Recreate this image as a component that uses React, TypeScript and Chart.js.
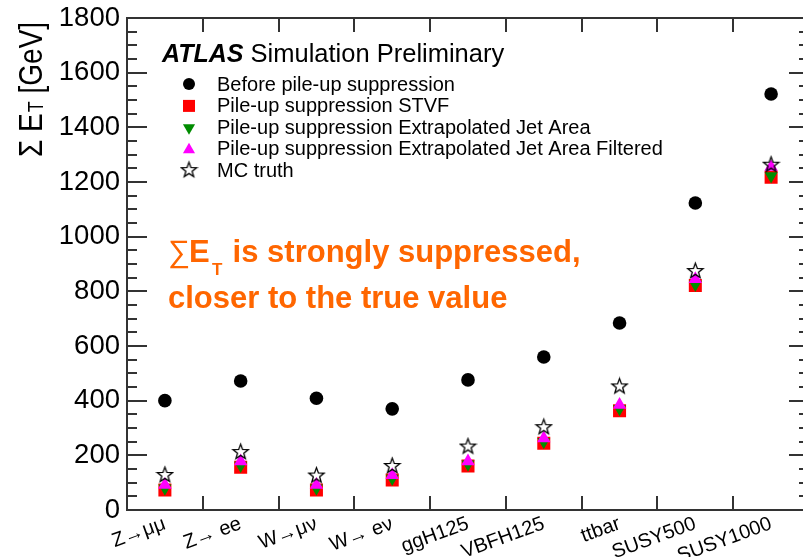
import React, { useEffect, useRef } from "react";
import { Chart, registerables } from "chart.js";

Chart.register(...registerables);

// ---------- data ----------
const categories = ["Z→μμ", "Z→ ee", "W→μν", "W→ eν", "ggH125", "VBFH125", "ttbar", "SUSY500", "SUSY1000"];
const beforeSuppression = [400, 472, 409, 370, 476, 560, 684, 1123, 1522];
const stvf = [73, 156, 73, 110, 161, 244, 363, 821, 1217];
const extrapolatedJetArea = [80, 163, 80, 115, 167, 250, 370, 825, 1222];
const extrapolatedJetAreaFiltered = [92, 178, 92, 128, 178, 262, 385, 845, 1255];
const mcTruth = [130, 214, 128, 163, 234, 305, 454, 876, 1265];

const yMin = 0;
const yMax = 1800;
const yMajorStep = 200;
const yMinorStep = 50;

const legendTitleBold = "ATLAS";
const legendTitleRest = " Simulation Preliminary";
const legendLabels = [
  "Before pile-up suppression",
  "Pile-up suppression STVF",
  "Pile-up suppression Extrapolated Jet Area",
  "Pile-up suppression Extrapolated Jet Area Filtered",
  "MC truth",
];
const noteSigma = "∑";
const noteE = "E";
const noteSub = "T";
const noteLine1Rest = " is strongly suppressed,";
const noteLine2 = "closer to the true value";

// ---------- styles ----------
const FONT = "'Liberation Sans', Arial, Helvetica, sans-serif";
const BLACK = "#000000";
const RED = "#ff0000";
const GREEN = "#008c00";
const MAGENTA = "#ff00ff";
const ORANGE = "#ff6600";
const AXIS = "#333333";

function makeStar(): HTMLCanvasElement {
  const size = 19;
  const c = document.createElement("canvas");
  c.width = size;
  c.height = size;
  const ctx = c.getContext("2d")!;
  const cx = size / 2;
  const cy = size / 2 + 0.6;
  const R = 8;
  const r = 3.3;
  ctx.beginPath();
  for (let i = 0; i < 10; i++) {
    const ang = -Math.PI / 2 + (i * Math.PI) / 5;
    const rad = i % 2 === 0 ? R : r;
    const x = cx + rad * Math.cos(ang);
    const y = cy + rad * Math.sin(ang);
    if (i === 0) ctx.moveTo(x, y);
    else ctx.lineTo(x, y);
  }
  ctx.closePath();
  ctx.lineWidth = 1.3;
  ctx.strokeStyle = BLACK;
  ctx.stroke();
  return c;
}

function triangle(ctx: CanvasRenderingContext2D, x: number, y: number, r: number, down: boolean) {
  const rot = down ? Math.PI : 0;
  ctx.beginPath();
  for (let i = 0; i < 3; i++) {
    const a = rot + (i * 2 * Math.PI) / 3;
    const px = x + Math.sin(a) * r;
    const py = y - Math.cos(a) * r;
    if (i === 0) ctx.moveTo(px, py);
    else ctx.lineTo(px, py);
  }
  ctx.closePath();
  ctx.fill();
}

export default function App() {
  const ref = useRef<HTMLCanvasElement>(null);

  useEffect(() => {
    const star = makeStar();

    const decor = {
      id: "decor",
      afterDraw(chart: any) {
        const { ctx, chartArea: a, scales } = chart;
        const xs = scales.x;
        const ys = scales.y;
        ctx.save();

        // frame
        ctx.strokeStyle = AXIS;
        ctx.lineWidth = 2;
        ctx.strokeRect(a.left, a.top, a.right - a.left, a.bottom - a.top);

        const line = (x1: number, y1: number, x2: number, y2: number) => {
          ctx.beginPath();
          ctx.moveTo(x1, y1);
          ctx.lineTo(x2, y2);
          ctx.stroke();
        };

        // y ticks (inward, both sides)
        for (let v = yMin; v <= yMax; v += yMinorStep) {
          const py = Math.round(ys.getPixelForValue(v));
          const len = v % yMajorStep === 0 ? 20 : 10;
          line(a.left, py, a.left + len, py);
          line(a.right, py, a.right - len, py);
        }
        // x ticks at category boundaries
        for (let i = 1; i < categories.length; i++) {
          const px = Math.round(xs.getPixelForValue(i - 0.5));
          line(px, a.bottom, px, a.bottom - 14);
          line(px, a.top, px, a.top + 14);
        }

        // y axis title
        ctx.fillStyle = BLACK;
        ctx.textBaseline = "alphabetic";
        ctx.textAlign = "left";
        ctx.save();
        ctx.translate(42, 157);
        ctx.rotate(-Math.PI / 2);
        ctx.scale(1, 1.2);
        ctx.font = `28px ${FONT}`;
        let w = 0;
        ctx.fillText("Σ E", w, 0);
        w += ctx.measureText("Σ E").width;
        ctx.font = `18px ${FONT}`;
        ctx.fillText("T", w + 1, 1);
        w += ctx.measureText("T").width + 1;
        ctx.font = `28px ${FONT}`;
        ctx.fillText(" [GeV]", w, 0);
        ctx.restore();

        // legend title
        ctx.font = `italic bold 25px ${FONT}`;
        ctx.fillText(legendTitleBold, 162, 62);
        const bw = ctx.measureText(legendTitleBold).width;
        ctx.font = `25.5px ${FONT}`;
        ctx.fillText(legendTitleRest, 162 + bw, 62);

        // legend entries
        const lx = 189;
        const tx = 217;
        const base0 = 91;
        const step = 21.4;
        ctx.font = `20px ${FONT}`;
        legendLabels.forEach((lab, i) => {
          const by = base0 + i * step;
          const my = by - 7;
          ctx.fillStyle = BLACK;
          ctx.fillText(lab, tx, by);
          if (i === 0) {
            ctx.beginPath();
            ctx.arc(lx, my, 6, 0, Math.PI * 2);
            ctx.fill();
          } else if (i === 1) {
            ctx.fillStyle = RED;
            ctx.fillRect(lx - 6, my - 6 + 0.5, 12, 12);
          } else if (i === 2) {
            ctx.fillStyle = GREEN;
            triangle(ctx, lx, my + 1, 7, true);
          } else if (i === 3) {
            ctx.fillStyle = MAGENTA;
            triangle(ctx, lx, my + 1.5, 7, false);
          } else {
            ctx.drawImage(star, lx - star.width / 2, my - star.height / 2);
          }
        });

        // orange note
        ctx.fillStyle = ORANGE;
        ctx.font = `31px ${FONT}`;
        ctx.fillText(noteSigma, 168, 262);
        ctx.font = `bold 31px ${FONT}`;
        ctx.fillText(noteE, 189, 262);
        ctx.font = `bold 17px ${FONT}`;
        ctx.fillText(noteSub, 212, 275);
        ctx.font = `bold 31px ${FONT}`;
        ctx.fillText(noteLine1Rest, 224, 262);
        ctx.fillText(noteLine2, 168, 308);

        ctx.restore();
      },
    };

    const chart = new Chart(ref.current!, {
      type: "line",
      data: {
        labels: categories,
        datasets: [
          {
            label: legendLabels[0],
            data: beforeSuppression,
            showLine: false,
            pointStyle: "circle",
            pointRadius: 6.8,
            pointBackgroundColor: BLACK,
            pointBorderWidth: 0,
            order: 5,
          },
          {
            label: legendLabels[1],
            data: stvf,
            showLine: false,
            pointStyle: "rect",
            pointRadius: 9.2,
            pointBackgroundColor: RED,
            pointBorderWidth: 0,
            order: 4,
          },
          {
            label: legendLabels[2],
            data: extrapolatedJetArea,
            showLine: false,
            pointStyle: "triangle",
            pointRotation: 180,
            pointRadius: 7.5,
            pointBackgroundColor: GREEN,
            pointBorderWidth: 0,
            order: 3,
          },
          {
            label: legendLabels[3],
            data: extrapolatedJetAreaFiltered,
            showLine: false,
            pointStyle: "triangle",
            pointRadius: 7.8,
            pointBackgroundColor: MAGENTA,
            pointBorderWidth: 0,
            order: 2,
          },
          {
            label: legendLabels[4],
            data: mcTruth,
            showLine: false,
            pointStyle: star as any,
            pointRadius: 8,
            order: 1,
          },
        ],
      },
      options: {
        animation: false,
        responsive: false,
        devicePixelRatio: 1,
        events: [],
        layout: { padding: { top: 18, right: 11, left: 0, bottom: 0 } },
        plugins: {
          legend: { display: false },
          tooltip: { enabled: false },
          title: { display: false },
        },
        scales: {
          x: {
            type: "category",
            offset: true,
            grid: { display: false, drawTicks: false, offset: true },
            border: { display: false },
            ticks: {
              autoSkip: false,
              minRotation: 20,
              maxRotation: 20,
              padding: 2,
              color: BLACK,
              font: { family: FONT, size: 20 },
            },
            afterFit: (s: any) => {
              s.height = 47;
              s.paddingLeft = 0;
              s.paddingRight = 0;
            },
          },
          y: {
            type: "linear",
            min: yMin,
            max: yMax,
            grid: { display: false, drawTicks: false },
            border: { display: false },
            ticks: {
              stepSize: yMajorStep,
              padding: 7,
              color: BLACK,
              font: { family: FONT, size: 27.5 },
              callback: (v: any) => String(v),
            },
            afterFit: (s: any) => {
              s.width = 127;
              s.paddingTop = 0;
              s.paddingBottom = 0;
            },
          },
        },
      },
      plugins: [decor],
    } as any);

    return () => chart.destroy();
  }, []);

  return (
    <div
      style={{
        position: "fixed",
        left: 0,
        top: 0,
        width: 803,
        height: 557,
        overflow: "hidden",
        background: "#ffffff",
      }}
    >
      <canvas ref={ref} width={820} height={557} style={{ display: "block" }} />
    </div>
  );
}
